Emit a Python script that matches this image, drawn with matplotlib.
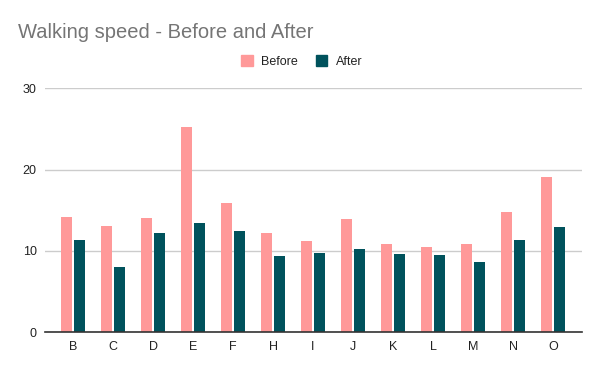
import matplotlib
matplotlib.use("Agg")
import matplotlib.pyplot as plt
import numpy as np
from matplotlib.patches import Patch

categories = ["B", "C", "D", "E", "F", "H", "I", "J", "K", "L", "M", "N", "O"]
before = [14.2, 13.1, 14.1, 25.3, 15.9, 12.2, 11.2, 13.9, 10.8, 10.5, 10.9, 14.8, 19.1]
after = [11.3, 8.0, 12.2, 13.5, 12.4, 9.4, 9.7, 10.2, 9.6, 9.5, 8.6, 11.3, 13.0]
series_names = ["Before", "After"]
yticks = [0, 10, 20, 30]

c_before = "#ff9999"
c_after = "#00525c"

plt.rcParams["font.family"] = ["Liberation Sans", "DejaVu Sans"]

fig = plt.figure(figsize=(6, 3.71), dpi=100)
ax = fig.add_axes([45/600, 1-332.3/371, 537/600, 244/371])

x = np.arange(len(categories))
w = 0.267
off = 0.166
ax.bar(x - off, before, width=w, color=c_before, zorder=3)
ax.bar(x + off, after, width=w, color=c_after, zorder=3)

ax.set_xlim(-0.7, len(categories) - 0.5 + 0.225)
ax.set_ylim(0, 30)
ax.set_yticks(yticks)
ax.set_yticklabels([str(t) for t in yticks])
ax.set_xticks(x)
ax.set_xticklabels(categories)
ax.tick_params(axis="both", length=0, labelsize=9, colors="#222222")
ax.tick_params(axis="y", pad=6)
ax.tick_params(axis="x", pad=6)
ax.grid(axis="y", color="#cccccc", linewidth=1, zorder=0)
for s in ["top", "right", "left"]:
    ax.spines[s].set_visible(False)
ax.spines["bottom"].set_color("#333333")
ax.spines["bottom"].set_linewidth(1.2)
ax.spines["bottom"].set_zorder(4)

fig.text(18/600, 1-38.3/371, "Walking speed - Before and After", fontsize=14.5,
         color="#757575", ha="left", va="baseline")

handles = [Patch(color=c_before, label=series_names[0]),
           Patch(color=c_after, label=series_names[1])]
fig.legend(handles=handles, loc="center", bbox_to_anchor=(0.503, 1-61.5/371), ncol=2,
           frameon=False, fontsize=9, handlelength=0.9, handleheight=0.9,
           handletextpad=0.7, columnspacing=1.4, labelcolor="#222222")

fig.savefig("out.png", dpi=100, facecolor="white")
